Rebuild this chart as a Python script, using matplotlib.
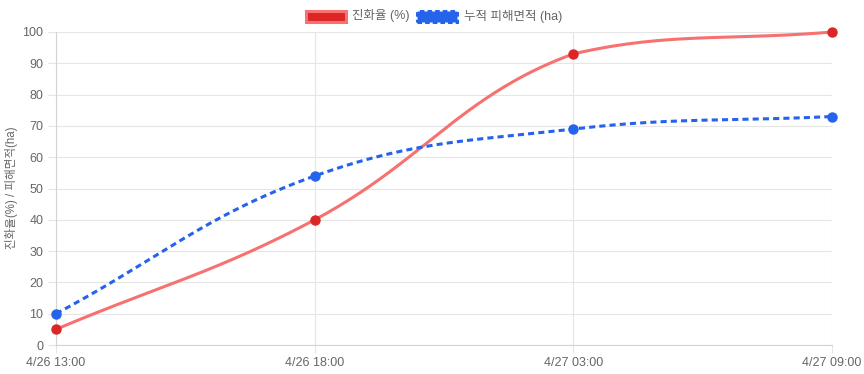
import numpy as np
import matplotlib
matplotlib.use("Agg")
import matplotlib.pyplot as plt
from matplotlib.patches import Rectangle

plt.rcParams['font.family'] = ['Liberation Sans', 'Noto Sans CJK KR']

times = ["4/26 13:00", "4/26 18:00", "4/27 03:00", "4/27 09:00"]
contain_pct = [5, 40, 93, 100]
burned_ha = [10, 54, 69, 73]
yticks = list(range(0, 101, 10))

RED_LINE = "#f87171"
RED_PT = "#dc2626"
BLUE = "#2563eb"
GRID = "#e5e5e5"
TXT = "#666666"

W, H = 864, 374
AX_L, AX_R, AX_T, AX_B = 56, 832, 32, 345
YMAX = 100


def spline(vals, tension=0.4, n=80):
    # bezier curve like chart.js line tension, done in pixel space
    k = len(vals)
    sx = (AX_R - AX_L) / (k - 1)
    sy = (AX_B - AX_T) / YMAX
    p = np.array([[i * sx, v * sy] for i, v in enumerate(vals)])
    cps = []
    for i in range(k):
        prev = p[max(i - 1, 0)]
        cur = p[i]
        nxt = p[min(i + 1, k - 1)]
        d01 = np.hypot(*(cur - prev))
        d12 = np.hypot(*(nxt - cur))
        s01 = d01 / (d01 + d12) if d01 + d12 else 0
        s12 = d12 / (d01 + d12) if d01 + d12 else 0
        cp_prev = cur - tension * s01 * (nxt - prev)
        cp_next = cur + tension * s12 * (nxt - prev)
        # cap to chart area
        for c in (cp_prev, cp_next):
            c[0] = np.clip(c[0], 0, (k - 1) * sx)
            c[1] = np.clip(c[1], 0, YMAX * sy)
        cps.append((cp_prev, cp_next))
    xs, ys = [], []
    t = np.linspace(0, 1, n)[:, None]
    for i in range(k - 1):
        a, b = p[i], cps[i][1]
        c, d = cps[i + 1][0], p[i + 1]
        pts = (1 - t)**3 * a + 3 * (1 - t)**2 * t * b + 3 * (1 - t) * t**2 * c + t**3 * d
        xs.extend(pts[:, 0] / sx)
        ys.extend(pts[:, 1] / sy)
    return np.array(xs), np.array(ys)


fig = plt.figure(figsize=(8.64, 3.74), dpi=100)
ax = fig.add_axes([AX_L / W, 1 - AX_B / H, (AX_R - AX_L) / W, (AX_B - AX_T) / H])

x = np.arange(len(times))
cx, cy = spline(contain_pct)
ax.plot(cx, cy, color=RED_LINE, lw=2.2, solid_capstyle='round', zorder=3, clip_on=False)
ax.plot(x, contain_pct, 'o', color=RED_PT, ms=6.5, zorder=4, clip_on=False)
bx, by = spline(burned_ha)
ln, = ax.plot(bx, by, color=BLUE, lw=2.2, zorder=3, clip_on=False)
ln.set_dashes([2, 1.35])
ax.plot(x, burned_ha, 'o', color=BLUE, ms=6.5, zorder=4, clip_on=False)

ax.set_xlim(0, len(times) - 1)
ax.set_ylim(0, YMAX)
ax.set_xticks(x)
ax.set_xticklabels(times)
ax.set_yticks(yticks)
ax.grid(True, color=GRID, lw=0.8)
ax.set_axisbelow(True)
for s in ['top', 'right']:
    ax.spines[s].set_visible(False)
for s in ['left', 'bottom']:
    ax.spines[s].set_color("#d4d4d4")
    ax.spines[s].set_linewidth(0.8)
ax.tick_params(colors=GRID, labelcolor=TXT, labelsize=9, length=6, width=0.8, pad=3)
fig.text(12 / W, 1 - 188 / H, "진화율(%) / 피해면적(ha)", color=TXT, fontsize=8.3,
         rotation=90, ha='center', va='center')


# legend
def box(x0, y0, w, h, fc, ec, dashed=False):
    r = Rectangle((x0 / W, 1 - (y0 + h) / H), w / W, h / H, transform=fig.transFigure,
                  facecolor=fc, edgecolor=ec, lw=2.2, linestyle=(0, (1.5, 1)) if dashed else '-')
    fig.add_artist(r)


box(306, 11, 40, 11, RED_PT, RED_LINE)
fig.text(352 / W, 1 - 16 / H, "진화율 (%)", fontsize=9, color=TXT, va='center', ha='left')
box(417, 11, 40, 11, BLUE, BLUE, dashed=True)
fig.text(464 / W, 1 - 16 / H, "누적 피해면적 (ha)", fontsize=9, color=TXT, va='center', ha='left')

fig.savefig("out.png", dpi=100)
